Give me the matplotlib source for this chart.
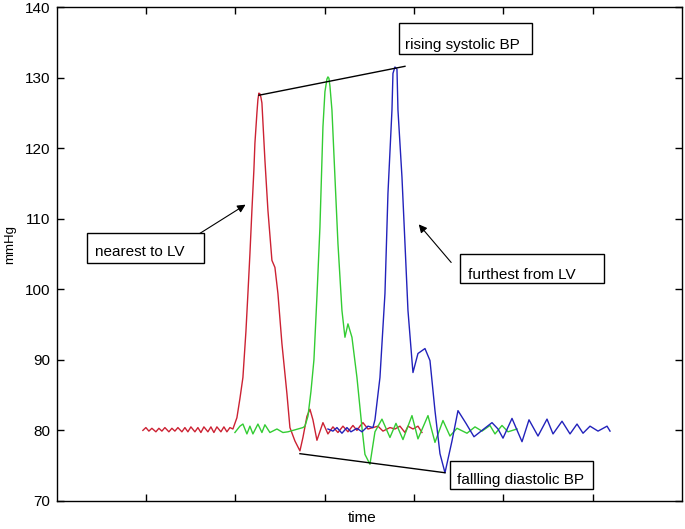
import numpy as np
import matplotlib
matplotlib.use("Agg")
import matplotlib.pyplot as plt
from matplotlib.patches import Rectangle

plt.rcParams['font.family'] = ['Liberation Sans', 'DejaVu Sans']

# ---- data (time in samples, pressure in mmHg) ----
red_t = [86, 89, 92, 95, 99, 102, 105, 108, 112, 115, 118, 121, 125, 128, 131, 134, 138, 141, 144,
         147, 151, 154, 157, 160, 164, 167, 170, 173, 176,
         180, 183, 186, 189, 191, 193, 195, 197, 198, 200, 201, 202, 203, 204, 205, 208, 211, 215, 218, 221,
         225, 230, 233, 238, 243, 246, 250, 253, 256, 260, 266, 271, 276, 281, 286, 291, 296, 300,
         303, 306, 311, 316, 321, 326, 333, 338, 343, 348, 351, 356, 361, 365]
red_p = [80.0, 80.4, 79.9, 80.3, 79.8, 80.3, 79.9, 80.4, 79.8, 80.3, 79.9, 80.4, 79.8, 80.4, 79.8, 80.5, 79.8, 80.4, 79.7,
         80.5, 79.8, 80.5, 79.7, 80.5, 79.8, 80.5, 79.8, 80.4, 80.2,
         81.8, 84.5, 87.5, 94.0, 99.4, 105.0, 111.2, 117.0, 120.7, 125.0, 126.9, 127.8, 127.7, 127.2, 126.4, 118.3, 111.2, 104.1, 103.1, 99.4,
         92.3, 85.2, 80.4, 78.5, 77.1, 79.0, 82.0, 83.0, 81.5, 78.6, 81.1, 79.5, 80.5, 79.7, 80.6, 79.8, 80.7, 80.0,
         80.6, 81.1, 80.2, 80.4, 80.6, 79.9, 80.4, 80.2, 80.6, 79.7, 80.6, 80.2, 80.6, 79.7]

green_t = [178, 183, 186, 190, 193, 196, 201, 205, 208, 213, 220, 226, 231, 236, 241, 246,
           248, 251, 254, 257, 260, 263, 266, 268, 270, 271, 272, 273, 275, 278, 281, 285, 288, 291, 295,
           300, 305, 308, 313, 318, 325, 333, 339, 346, 355, 361, 371, 378, 386, 393, 400, 410,
           418, 425, 433, 438, 445, 451, 460]
green_p = [79.7, 80.6, 80.9, 79.5, 80.6, 79.5, 80.9, 79.7, 80.8, 79.7, 80.2, 79.7, 79.8, 80.0, 80.2, 80.4,
           80.6, 82.0, 85.5, 90.0, 99.0, 108.8, 123.0, 128.0, 129.8, 130.1, 129.9, 128.8, 125.4, 115.9, 106.5, 97.0, 93.2, 95.1, 93.2,
           87.5, 80.4, 76.6, 75.2, 79.8, 81.6, 79.0, 81.0, 78.7, 82.1, 78.8, 82.1, 78.3, 81.4, 79.2, 80.3, 79.6,
           80.5, 79.9, 80.7, 79.5, 80.7, 79.8, 80.2]

blue_t = [271, 276, 280, 285, 290, 294, 300, 305, 311, 316, 318, 323, 328, 331, 335, 336, 338, 340,
          341, 345, 348, 351, 355, 356, 361, 368, 373, 378, 383, 388, 395, 401, 409, 417, 425,
          435, 441, 446, 455, 465, 472, 481, 490, 496, 505, 513, 520, 526, 533, 541, 550, 553]
blue_p = [80.2, 79.9, 80.4, 79.6, 80.4, 79.8, 80.3, 79.8, 80.6, 80.4, 81.5, 87.5, 99.4, 113.6, 125.4, 130.6, 131.5, 131.2,
          125.4, 115.9, 106.5, 97.0, 89.9, 88.2, 90.9, 91.6, 89.9, 82.8, 76.7, 74.0, 78.5, 82.8, 81.0, 79.1, 80.0,
          81.1, 80.2, 78.9, 81.7, 78.4, 81.5, 79.2, 81.6, 79.5, 81.3, 79.5, 80.9, 79.6, 80.6, 79.9, 80.6, 79.9]

systolic_t = [202, 348]
systolic_p = [127.5, 131.6]
diastolic_t = [243, 388]
diastolic_p = [76.7, 74.0]

fig = plt.figure(figsize=(6.85, 5.29), dpi=100)
ax = fig.add_axes([0.083, 0.053, 0.9127, 0.9337])

ax.plot(red_t, red_p, color='#cc2233', lw=1.0)
ax.plot(green_t, green_p, color='#33cc33', lw=1.0)
ax.plot(blue_t, blue_p, color='#2222bb', lw=1.0)
ax.plot(systolic_t, systolic_p, color='black', lw=1.0)
ax.plot(diastolic_t, diastolic_p, color='black', lw=1.0)

ax.set_xlim(0, 625)
ax.set_ylim(70, 140)
ax.set_xticks(np.arange(1, 7) * 625 / 7)
ax.set_xticklabels([])
ax.set_yticks(np.arange(70, 141, 10))
ax.tick_params(direction='in', length=5, width=1, top=True, right=True,
               labelsize=11, pad=5)
for s in ax.spines.values():
    s.set_linewidth(1.0)
ax.set_xlabel('time', fontsize=11, labelpad=2)
ax.xaxis.label.set_x(0.489)
ax.set_ylabel('mmHg', fontsize=9.5, labelpad=6,
              family=['Liberation Sans Narrow', 'Liberation Sans', 'DejaVu Sans'])
ax.yaxis.label.set_y(0.52)

# annotation boxes (x0, x1, y0, y1), text anchor
boxes = [
    ("rising systolic BP", (342, 475, 133.33, 137.73), (348, 134.1)),
    ("nearest to LV", (30, 147, 103.79, 107.91), (38, 104.7)),
    ("furthest from LV", (403, 547, 100.95, 105.07), (411, 101.4)),
    ("fallling diastolic BP", (393, 536, 71.70, 75.68), (400, 72.4)),
]
for label, (x0, x1, y0, y1), (tx, ty) in boxes:
    ax.add_patch(Rectangle((x0, y0), x1 - x0, y1 - y0, facecolor='white',
                           edgecolor='black', lw=1.0, zorder=5))
    ax.text(tx, ty, label, fontsize=11, ha='left', va='baseline', zorder=6)

ax.annotate('', xy=(191, 112.2), xytext=(136, 107.3),
            arrowprops=dict(arrowstyle='-|>', color='black', lw=0.8, mutation_scale=12))
ax.annotate('', xy=(360, 109.5), xytext=(396, 103.5),
            arrowprops=dict(arrowstyle='-|>', color='black', lw=0.8, mutation_scale=12))

fig.savefig('out.png', dpi=100)
